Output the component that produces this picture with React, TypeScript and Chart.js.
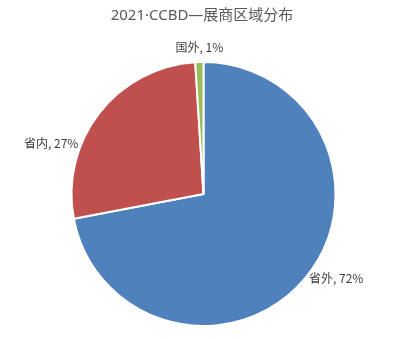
import React, { useEffect, useRef } from "react";
import { Chart, registerables } from "chart.js";

Chart.register(...registerables);

const titleText = "2021·CCBD—展商区域分布";
const categories = ["省外", "省内", "国外"];
const values = [72, 27, 1];
const colors = ["#4F81BD", "#C0504D", "#9BBB59"];
// label center offsets from the slice's outer edge midpoint (styling)
const labelOffsets: [number, number][] = [
  [31, 0],
  [-48, 30],
  [0, -15],
];

const FONT = "'Noto Sans CJK SC', 'Noto Sans', sans-serif";
const TITLE_FONT = "'Noto Sans', 'Noto Sans CJK SC', sans-serif";

const labelPlugin = {
  id: "customLabels",
  afterDatasetsDraw(chart: any) {
    const ctx = chart.ctx;
    const meta = chart.getDatasetMeta(0);
    ctx.save();
    ctx.font = `12px ${FONT}`;
    ctx.fillStyle = "#404040";
    ctx.textAlign = "center";
    ctx.textBaseline = "middle";
    meta.data.forEach((arc: any, i: number) => {
      const p = arc.getProps(["x", "y", "startAngle", "endAngle", "outerRadius"], true);
      const mid = (p.startAngle + p.endAngle) / 2;
      const ex = p.x + Math.cos(mid) * p.outerRadius;
      const ey = p.y + Math.sin(mid) * p.outerRadius;
      const [dx, dy] = labelOffsets[i];
      ctx.fillText(`${categories[i]}, ${values[i]}%`, ex + dx, ey + dy);
    });
    ctx.restore();
  },
};

const titlePlugin = {
  id: "customTitle",
  afterDraw(chart: any) {
    const ctx = chart.ctx;
    ctx.save();
    ctx.font = `15px ${TITLE_FONT}`;
    ctx.fillStyle = "#595959";
    ctx.textAlign = "center";
    ctx.textBaseline = "middle";
    ctx.fillText(titleText, 202, 16);
    ctx.restore();
  },
};

export default function App() {
  const ref = useRef<HTMLCanvasElement>(null);
  useEffect(() => {
    document.body.style.margin = "0";
    const chart = new Chart(ref.current!, {
      type: "pie",
      data: {
        labels: categories,
        datasets: [
          {
            data: values,
            backgroundColor: colors,
            borderColor: "#ffffff",
            borderWidth: 2,
          },
        ],
      },
      options: {
        responsive: false,
        animation: false,
        layout: { padding: { top: 61, bottom: 12, left: 0, right: 10 } },
        plugins: {
          legend: { display: false },
          title: { display: false },
          tooltip: { enabled: false },
        },
      },
      plugins: [labelPlugin, titlePlugin],
    });
    return () => chart.destroy();
  }, []);
  return (
    <div style={{ position: "absolute", left: 0, top: 0, width: 417, height: 339, background: "#fff" }}>
      <canvas ref={ref} width={417} height={339} />
    </div>
  );
}
